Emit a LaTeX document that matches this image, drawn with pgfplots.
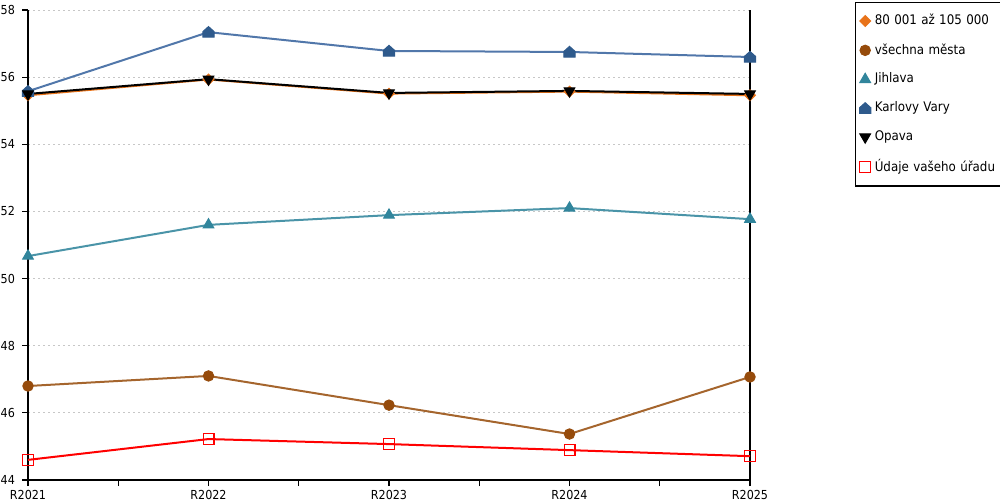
\documentclass[border=0pt]{standalone}
\usepackage{pgfplots}
\pgfplotsset{compat=1.18}
\usepackage{fontspec}
\setmainfont{DejaVu Sans Condensed}
\definecolor{corange}{HTML}{E8731A}
\definecolor{cbrownm}{HTML}{964B0B}
\definecolor{cbrownl}{HTML}{A5652D}
\definecolor{ctealm}{HTML}{31859C}
\definecolor{cteall}{HTML}{4A94A8}
\definecolor{cbluem}{HTML}{2E5A8C}
\definecolor{cbluel}{HTML}{5177AA}
\pgfdeclareplotmark{house}{%
  \pgfpathmoveto{\pgfqpoint{-\pgfplotmarksize}{-0.9\pgfplotmarksize}}%
  \pgfpathlineto{\pgfqpoint{\pgfplotmarksize}{-0.9\pgfplotmarksize}}%
  \pgfpathlineto{\pgfqpoint{\pgfplotmarksize}{0.1\pgfplotmarksize}}%
  \pgfpathlineto{\pgfqpoint{0pt}{\pgfplotmarksize}}%
  \pgfpathlineto{\pgfqpoint{-\pgfplotmarksize}{0.1\pgfplotmarksize}}%
  \pgfpathclose\pgfusepathqfillstroke}
\begin{document}
\begin{tikzpicture}
\path[use as bounding box] (0,0) rectangle (500pt,250pt);
\begin{axis}[
  at={(14pt,10pt)}, anchor=south west,
  scale only axis, width=361pt, height=235pt,
  xmin=0, xmax=4, ymin=44, ymax=58,
  xtick={0,1,2,3,4}, xticklabels={R2021,R2022,R2023,R2024,R2025},
  minor xtick={0.5,1.5,2.5,3.5},
  ytick={44,46,...,58},
  axis x line*=bottom, axis y line*=box,
  ytick pos=left,
  tick align=outside, major tick length=3pt, minor tick length=3pt,
  every tick/.style={black, line width=0.6pt},
  axis line style={black, line width=0.6pt},
  ymajorgrids, grid style={dash pattern=on 1pt off 1.5pt, black!22, line width=0.5pt},
  ticklabel style={font=\fontsize{6.2}{7}\selectfont},
  xticklabel style={yshift=1.3pt},
  /pgf/number format/assume math mode=true,
  legend style={at={(1.1454,1.017)}, anchor=north west, draw=black, line width=0.6pt,
    font=\fontsize{6.6}{7.5}\selectfont, row sep=3.9pt, inner xsep=2pt, inner ysep=3.8pt,
    text width=62pt, minimum height=0pt},
  legend cell align=left,
  legend image code/.code={\draw[#1] plot coordinates {(0.15cm,0cm)};},
  clip=false,
]
\addplot[corange, line width=1pt, mark=square*, mark size=1.9pt, mark options={fill=corange, draw=corange, rotate=45, line width=0.5pt}]
  coordinates {(0,55.46) (1,55.93) (2,55.51) (3,55.57) (4,55.46)};
\addlegendentry{80 001 až 105 000}
\addplot[cbrownl, line width=1pt, mark=*, mark size=2.6pt, mark options={fill=cbrownm, draw=cbrownm, line width=0.5pt}]
  coordinates {(0,46.80) (1,47.10) (2,46.23) (3,45.37) (4,47.07)};
\addlegendentry{všechna města}
\addplot[cteall, line width=1pt, mark=triangle*, mark size=3.1pt, mark options={fill=ctealm, draw=ctealm, line width=0.5pt}]
  coordinates {(0,50.67) (1,51.60) (2,51.89) (3,52.10) (4,51.77)};
\addlegendentry{Jihlava}
\addplot[cbluel, line width=1pt, mark=house, mark size=2.8pt, mark options={fill=cbluem, draw=cbluem, line width=0.5pt}]
  coordinates {(0,55.58) (1,57.34) (2,56.78) (3,56.75) (4,56.60)};
\addlegendentry{Karlovy Vary}
\addplot[black, line width=1pt, mark=triangle*, mark size=3.1pt, mark options={fill=black, draw=black, rotate=180, line width=0.5pt}]
  coordinates {(0,55.50) (1,55.94) (2,55.53) (3,55.59) (4,55.50)};
\addlegendentry{Opava}
\addplot[red, line width=1pt, mark=square, mark size=2.7pt, mark options={draw=red, fill=white, line width=0.6pt}]
  coordinates {(0,44.60) (1,45.22) (2,45.07) (3,44.89) (4,44.71)};
\addlegendentry{Údaje vašeho úřadu}
\end{axis}
\end{tikzpicture}
\end{document}
